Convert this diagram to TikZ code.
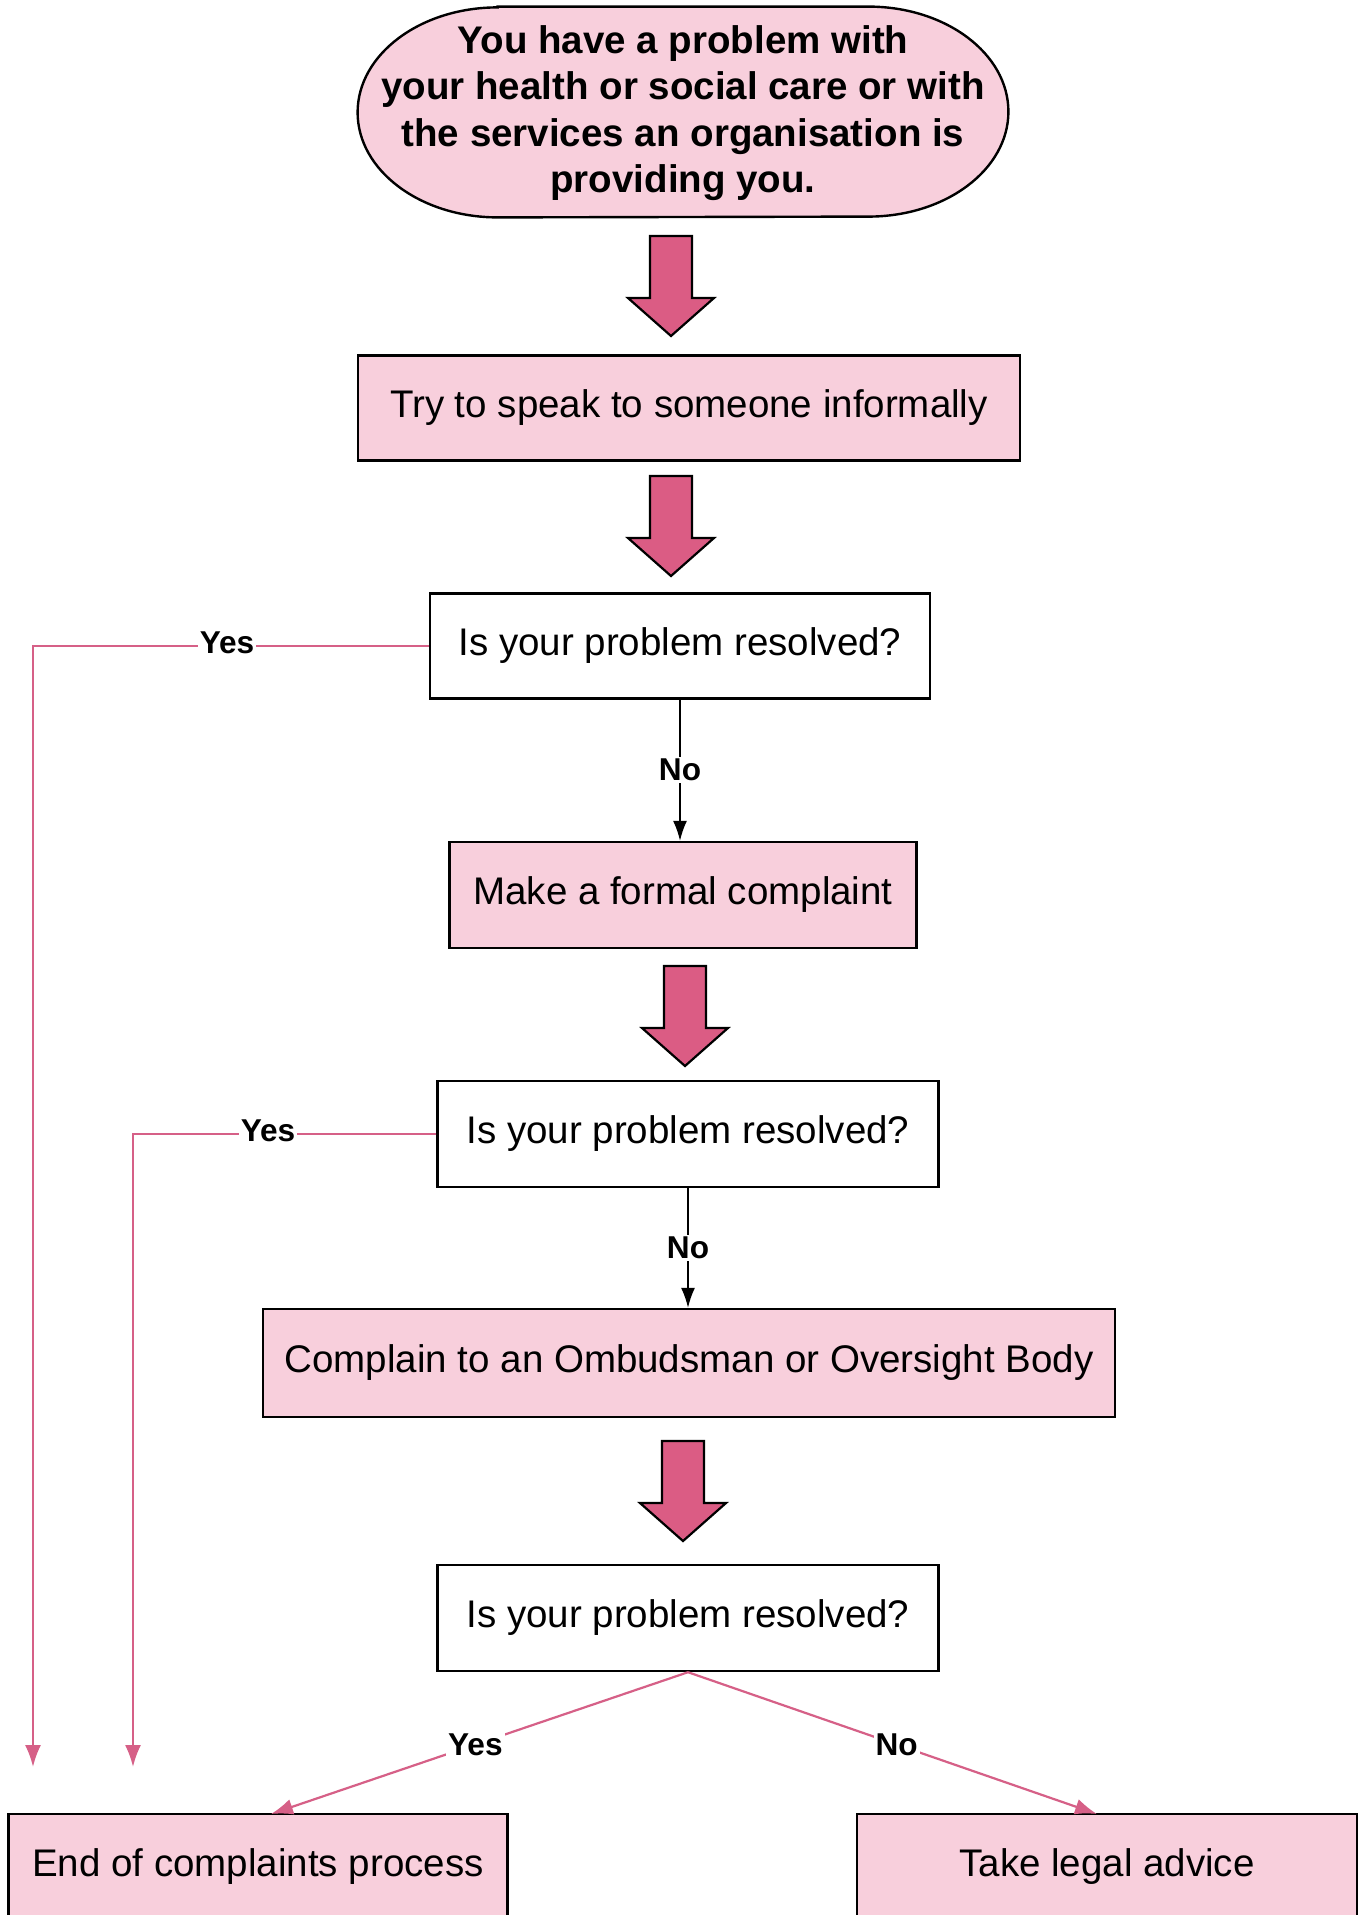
\documentclass[tikz,border=0pt]{standalone}
\usepackage{fontspec}
\setmainfont{Liberation Sans}
\usetikzlibrary{arrows.meta}
\definecolor{pinkfill}{RGB}{248,207,220}
\definecolor{arrowfill}{RGB}{219,92,132}
\definecolor{linkpink}{RGB}{214,96,135}
\tikzset{
  box/.style={draw=black, line width=1.2pt, align=center, inner sep=0pt,
    font=\fontsize{19.25}{23.1}\selectfont},
  pinkbox/.style={box, fill=pinkfill},
  whitebox/.style={box, fill=white},
  blockarr/.style={draw=black, line width=1.1pt, fill=arrowfill, line join=miter},
  yesline/.style={draw=linkpink, line width=1.1pt, -{Latex[length=11pt,width=8pt]}},
  noline/.style={draw=black, line width=0.8pt, -{Latex[length=10pt,width=7pt]}},
  lbl/.style={fill=white, inner sep=1pt, font=\fontsize{15.8}{18}\selectfont\bfseries}
}
\newcommand\myblockarrow[2]{%
  \path[blockarr] ({#1-21},#2) -- ({#1+21},#2) -- ({#1+21},{#2+62}) -- ({#1+43},{#2+62})
    -- (#1,{#2+100}) -- ({#1-43},{#2+62}) -- ({#1-21},{#2+62}) -- cycle;}
\begin{document}
\begin{tikzpicture}[x=0.5pt,y=-0.5pt]
\useasboundingbox (0,0) rectangle (1362,1915);
\clip (0,0) rectangle (1362,1915);
\fill[white] (0,0) rectangle (1362,1915);

% start terminator
\node[inner sep=0pt, minimum width=325pt, minimum height=105pt] (start) at (683,112) {};
\draw[line width=1.2pt, fill=pinkfill]
  ([xshift=70pt]start.north west) -- ([xshift=-70pt]start.north east)
  arc[start angle=90, end angle=-90, x radius=70pt, y radius=52.5pt]
  -- ([xshift=70pt]start.south west)
  arc[start angle=270, end angle=90, x radius=70pt, y radius=52.5pt] -- cycle;
\node[align=center, font=\fontsize{19.25}{23.2}\selectfont\bfseries] (starttext) at (683,113)
  {You have a problem with\\your health or social care or with\\the services an organisation is\\providing you.};

\node[pinkbox, minimum width=331pt, minimum height=52.5pt] (try) at (689,408) {Try to speak to someone informally};
\node[whitebox, minimum width=250pt, minimum height=52.5pt] (q1) at (680,646) {Is your problem resolved?};
\node[pinkbox, minimum width=233.5pt, minimum height=53pt] (formal) at (683,895) {Make a formal complaint};
\node[whitebox, minimum width=250.5pt, minimum height=53pt] (q2) at (688,1134) {Is your problem resolved?};
\node[pinkbox, minimum width=426pt, minimum height=54pt] (ombud) at (689,1363) {Complain to an Ombudsman or Oversight Body};
\node[whitebox, minimum width=250.5pt, minimum height=53pt] (q3) at (688,1618) {Is your problem resolved?};
\node[pinkbox, minimum width=249.5pt, minimum height=53pt] (endp) at (258,1867) {End of complaints process};
\node[pinkbox, minimum width=250pt, minimum height=53pt] (legal) at (1107,1867) {Take legal advice};

% block arrows
\myblockarrow{671}{236}
\myblockarrow{671}{476}
\myblockarrow{685}{966}
\myblockarrow{683}{1441}

% helper coordinates
\coordinate (c1) at (33,646);
\coordinate (e1) at (33,1767);
\coordinate (c2) at (133,1134);
\coordinate (e2) at (133,1767);
\coordinate (yesend) at (271,1814);
\coordinate (noend) at (1097,1814);

% connectors
\draw[yesline] (q1.west) -- (c1) -- (e1);
\node[lbl] (yes1) at (227,643) {Yes};
\draw[yesline] (q2.west) -- (c2) -- (e2);
\node[lbl] (yes2) at (268,1131) {Yes};

\draw[noline] (q1.south) -- (q1.south |- formal.north) node[lbl, pos=0.5] (no1) {No};
\draw[noline] (q2.south) -- (q2.south |- ombud.north) node[lbl, pos=0.5] (no2) {No};

\draw[yesline] (q3.south) -- (yesend) node[lbl, pos=0.51] (yes3) {Yes};
\draw[yesline] (q3.south) -- (noend) node[lbl, pos=0.51] (no3) {No};
\end{tikzpicture}
\end{document}
